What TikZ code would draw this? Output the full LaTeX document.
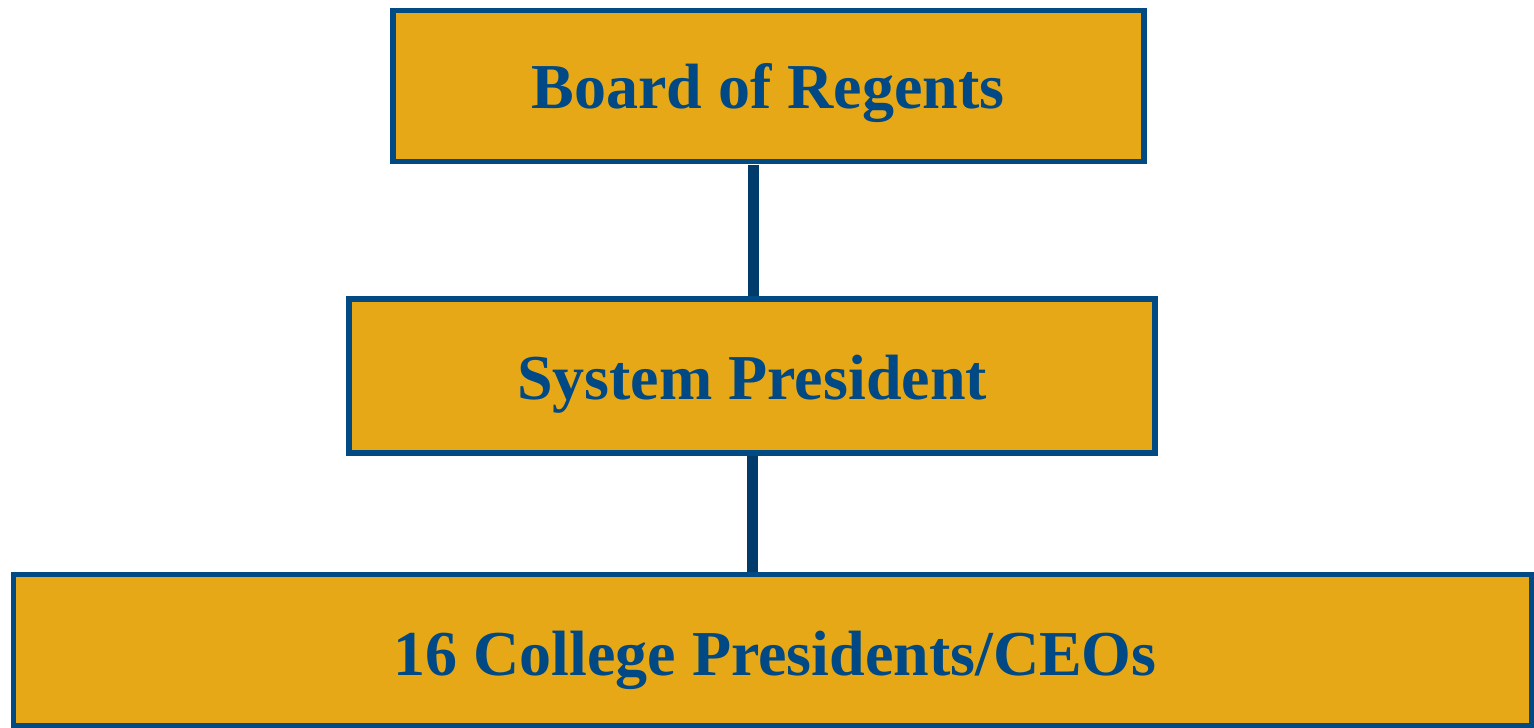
\documentclass[tikz,border=0pt]{standalone}
\usepackage{fontspec}
\setmainfont{Liberation Serif}
\definecolor{gold}{HTML}{E6A817}
\definecolor{bordblue}{HTML}{024A83}
\definecolor{linkblue}{HTML}{003B6C}
\definecolor{textblue}{HTML}{004985}
\tikzset{
  orgbox/.style={draw=bordblue, fill=gold, line width=5.5pt, inner sep=0pt},
  orgtext/.style={text=textblue, font=\bfseries\fontsize{64}{72}\selectfont},
  link/.style={draw=linkblue, line width=11pt}
}
\begin{document}
\begin{tikzpicture}[x=1pt,y=-1pt]
\useasboundingbox (0,0) rectangle (1534,728);
\fill[white] (0,0) rectangle (1534,728);
% boxes
\draw[orgbox] (393,10.5) rectangle (1144,161.5);
\draw[orgbox] (349,299) rectangle (1155,453);
\draw[orgbox] (13.7,574.7) rectangle (1531.5,726);
\node[orgtext] (b1) at (768,93) {Board of Regents};
\node[orgtext] (b2) at (752,384) {System President};
\node[orgtext] (b3) at (775,660) {16 College Presidents/CEOs};
\coordinate (c1a) at (753.5,164.5);
\coordinate (c1b) at (753.5,295.5);
\coordinate (c2a) at (752.5,456);
\coordinate (c2b) at (752.5,571.5);
\draw[link] (c1a) -- (c1b);
\draw[link] (c2a) -- (c2b);
\end{tikzpicture}
\end{document}
